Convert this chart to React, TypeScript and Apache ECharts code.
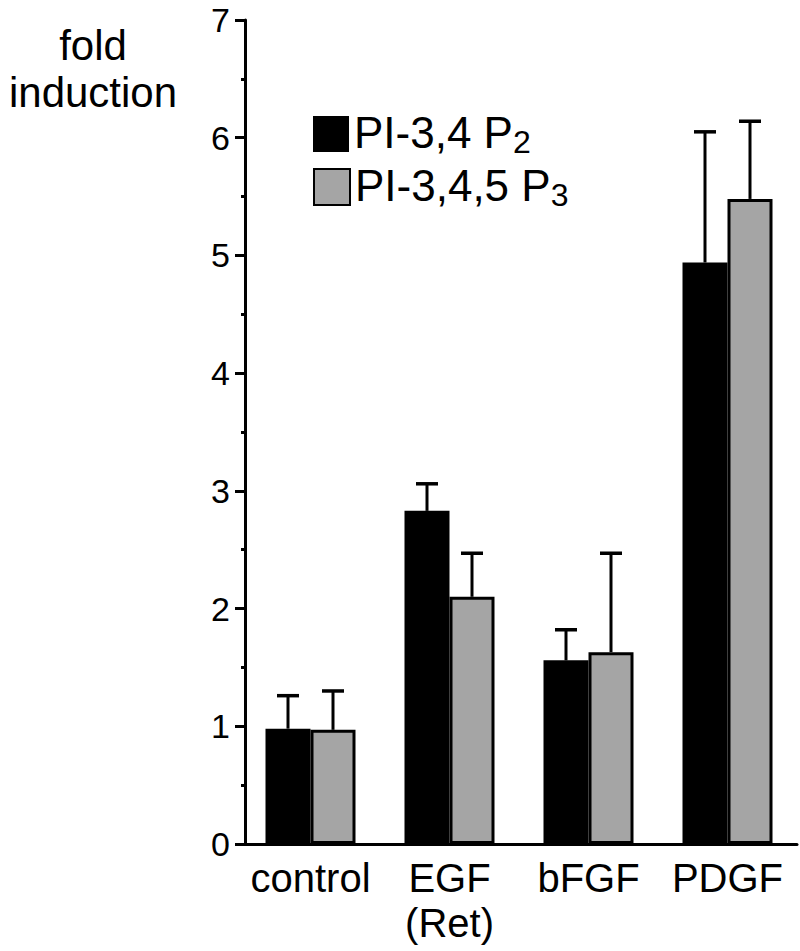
import React, { useEffect, useRef } from "react";
import * as echarts from "echarts";

const categories = ["control", "EGF\n(Ret)", "bFGF", "PDGF"];
const p2Name = "PI-3,4 P2";
const p3Name = "PI-3,4,5 P3";
const p2Values = [0.98, 2.83, 1.56, 4.94];
const p2ErrTop = [1.26, 3.06, 1.82, 6.05];
const p3Values = [0.97, 2.1, 1.63, 5.48];
const p3ErrTop = [1.3, 2.47, 2.47, 6.14];
const yTicks = [0, 1, 2, 3, 4, 5, 6, 7];

const FONT = "'Liberation Sans', Arial, Helvetica, sans-serif";
const BAR_W = 45;

export default function App() {
  const ref = useRef<HTMLDivElement>(null);
  useEffect(() => {
    document.body.style.margin = "0";
    const chart = echarts.init(ref.current!, null, { renderer: "svg" });
    const errData = (vals: number[], tops: number[], side: number) =>
      vals.map((v, i) => [i, v, tops[i], side]);
    const renderErr = (params: any, api: any) => {
      const side = api.value(3);
      const base = api.coord([api.value(0), api.value(1)]);
      const top = api.coord([api.value(0), api.value(2)]);
      const x = base[0] + side * (BAR_W / 2);
      return {
        type: "group",
        children: [
          {
            type: "line",
            shape: { x1: x, y1: base[1], x2: x, y2: top[1] },
            style: { stroke: "#000", lineWidth: 3 },
          },
          {
            type: "line",
            shape: { x1: x - 11, y1: top[1], x2: x + 11, y2: top[1] },
            style: { stroke: "#000", lineWidth: 3.5 },
          },
        ],
      };
    };
    const legendBase = {
      orient: "vertical",
      left: 313,
      padding: 0,
      itemWidth: 36,
      itemHeight: 36,
      icon: "rect",
      formatter: (name: string) => `{a|${name.slice(0, -1)}}{s|${name.slice(-1)}}`,
      textStyle: {
        rich: {
          a: { fontFamily: FONT, fontSize: 44, color: "#000", lineHeight: 44, verticalAlign: "top" },
          s: { fontFamily: FONT, fontSize: 32, color: "#000", lineHeight: 48, verticalAlign: "bottom", padding: [22, 0, 0, 0] },
        },
      },
    };
    chart.setOption({
      animation: false,
      backgroundColor: "#fff",
      grid: { left: 241, right: 3, top: 20, bottom: 107 },
      legend: [
        { ...legendBase, data: [p2Name], top: 104 },
        { ...legendBase, data: [p3Name], top: 157 },
      ],
      graphic: [
        {
          type: "text",
          x: 93,
          y: 22,
          style: {
            text: "fold\ninduction",
            font: `42px ${FONT}`,
            fill: "#000",
            textAlign: "center",
            lineHeight: 47,
          },
        },
      ],
      xAxis: {
        type: "category",
        data: categories,
        axisLine: { lineStyle: { color: "#000", width: 3 } },
        axisTick: { show: false },
        axisLabel: { color: "#000", fontFamily: FONT, fontSize: 40, margin: 11, lineHeight: 45, interval: 0 },
        splitLine: { show: false },
      },
      yAxis: {
        type: "value",
        min: yTicks[0],
        max: yTicks[yTicks.length - 1],
        interval: 1,
        offset: -4,
        axisLine: { show: true, lineStyle: { color: "#000", width: 3 } },
        axisTick: { show: true, length: 10, lineStyle: { color: "#000", width: 3 } },
        minorTick: { show: true, splitNumber: 2, length: 4, lineStyle: { color: "#000", width: 3 } },
        axisLabel: { color: "#000", fontFamily: FONT, fontSize: 34, margin: 15 },
        splitLine: { show: false },
      },
      series: [
        {
          name: p2Name,
          type: "bar",
          data: p2Values,
          barWidth: BAR_W,
          barGap: "0%",
          itemStyle: { color: "#000", borderColor: "#000", borderWidth: 0 },
        },
        {
          name: p3Name,
          type: "bar",
          data: p3Values,
          barWidth: BAR_W,
          barGap: "0%",
          itemStyle: { color: "#a5a5a5", borderColor: "#000", borderWidth: 3 },
        },
        {
          type: "custom",
          renderItem: renderErr,
          data: errData(p2Values, p2ErrTop, -1),
          encode: { x: 0, y: [1, 2] },
          z: 3,
        },
        {
          type: "custom",
          renderItem: renderErr,
          data: errData(p3Values, p3ErrTop, 1),
          encode: { x: 0, y: [1, 2] },
          z: 3,
        },
      ],
    });
    return () => chart.dispose();
  }, []);
  return <div ref={ref} style={{ width: 800, height: 951 }} />;
}
